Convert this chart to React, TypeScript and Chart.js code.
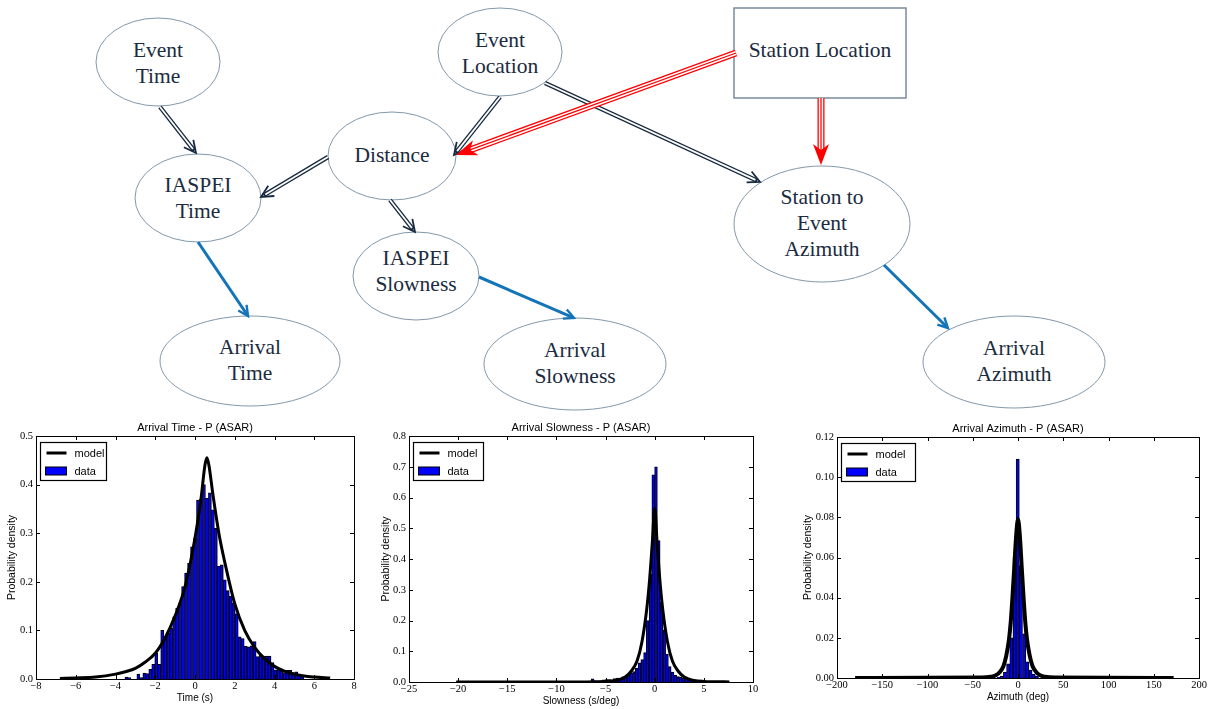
import React, { useEffect, useRef } from "react";
import { Chart, registerables } from "chart.js";
Chart.register(...registerables);

// ---------------- DATA ----------------
// Arrival Time histogram (bin centres, density)
const timeBinCenters = [-3.45, -3.3, -3.15, -3.0, -2.85, -2.7, -2.55, -2.4, -2.25, -2.1, -1.95, -1.8, -1.65, -1.5, -1.35, -1.2, -1.05, -0.9, -0.75, -0.6, -0.45, -0.3, -0.15, 0.0, 0.15, 0.3, 0.45, 0.6, 0.75, 0.9, 1.05, 1.2, 1.35, 1.5, 1.65, 1.8, 1.95, 2.1, 2.25, 2.4, 2.55, 2.7, 2.85, 3.0, 3.15, 3.3, 3.45, 3.6, 3.75, 3.9, 4.05, 4.2, 4.35, 4.5, 4.65, 4.8, 4.95, 5.1, 5.25, 5.4];
const timeDensity = [0.004, 0.003, 0, 0, 0.01, 0.003, 0.012, 0.011, 0.02, 0.03, 0.053, 0.03, 0.1, 0.088, 0.095, 0.105, 0.128, 0.146, 0.156, 0.19, 0.218, 0.238, 0.272, 0.29, 0.368, 0.37, 0.4, 0.372, 0.383, 0.348, 0.31, 0.232, 0.235, 0.204, 0.182, 0.17, 0.156, 0.134, 0.087, 0.083, 0.067, 0.066, 0.068, 0.077, 0.046, 0.05, 0.047, 0.047, 0.047, 0.034, 0.019, 0.019, 0.017, 0.013, 0.018, 0.018, 0.013, 0.015, 0.01, 0.007];
const timeModelX = [-6.8, -6, -5, -4, -3.5, -3, -2.5, -2, -1.5, -1, -0.5, 0, 0.3, 0.5, 0.6, 0.7, 0.9, 1.2, 1.5, 2, 2.5, 3, 3.5, 4, 4.5, 5, 5.5, 6, 6.8];
const timeModelY = [0.001, 0.002, 0.004, 0.01, 0.015, 0.022, 0.035, 0.053, 0.085, 0.13, 0.19, 0.29, 0.37, 0.44, 0.455, 0.44, 0.38, 0.3, 0.24, 0.155, 0.1, 0.065, 0.042, 0.026, 0.016, 0.01, 0.006, 0.004, 0.002];

// Arrival Slowness histogram
const slowBinCenters = [-6.31, -6.03, -5.75, -5.47, -5.19, -4.91, -4.63, -4.35, -4.07, -3.79, -3.51, -3.23, -2.95, -2.67, -2.39, -2.11, -1.83, -1.55, -1.27, -0.99, -0.71, -0.43, -0.15, 0.13, 0.41, 0.69, 0.97, 1.25, 1.53, 1.81, 2.09, 2.37, 2.65, 2.93, 3.21, 3.49, 3.77, 4.05, 4.33, 4.61, 4.89, 5.17, 5.45, 5.73, 6.01, 6.29, 6.57, 6.85, 7.13, 7.41];
const slowDensity = [0.01, 0.004, 0.003, 0.005, 0.007, 0.008, 0.008, 0.007, 0.011, 0.013, 0.012, 0.017, 0.019, 0.023, 0.028, 0.034, 0.045, 0.062, 0.073, 0.096, 0.2, 0.35, 0.674, 0.7, 0.46, 0.26, 0.17, 0.09, 0.05, 0.032, 0.022, 0.018, 0.015, 0.012, 0.016, 0.013, 0.008, 0.005, 0.004, 0.003, 0.003, 0.002, 0.002, 0.001, 0.001, 0.001, 0.001, 0.0005, 0.0005, 0.0005];
const slowModelX = [-20.2, -8, -6, -5, -4, -3.5, -3, -2.4, -1.8, -1.3, -0.8, -0.5, -0.25, 0, 0.25, 0.5, 0.8, 1.3, 1.8, 2.4, 3, 3.5, 4, 5, 6, 7.6];
const slowModelY = [0, 0.0003, 0.001, 0.002, 0.005, 0.009, 0.016, 0.035, 0.068, 0.13, 0.24, 0.34, 0.45, 0.565, 0.45, 0.34, 0.24, 0.13, 0.068, 0.035, 0.016, 0.009, 0.005, 0.002, 0.001, 0.0003];

// Arrival Azimuth histogram
const aziBinCenters = [-21.4, -17.9, -14.4, -10.9, -7.3, -3.8, -0.3, 3.2, 6.8, 10.3, 13.8, 17.3, 20.9];
const aziDensity = [0.0005, 0.001, 0.003, 0.007, 0.02, 0.06, 0.109, 0.056, 0.022, 0.008, 0.004, 0.002, 0.001];
const aziModelX = [-180, -40, -30, -25, -20, -16, -13, -10, -8, -6, -4, -2, 0, 2, 4, 6, 8, 10, 13, 16, 20, 25, 30, 40, 172];
const aziModelY = [0, 0.0002, 0.0006, 0.0012, 0.003, 0.006, 0.011, 0.019, 0.028, 0.041, 0.056, 0.071, 0.079, 0.071, 0.056, 0.041, 0.028, 0.019, 0.011, 0.006, 0.003, 0.0012, 0.0006, 0.0002, 0];

const chartTitles = ["Arrival Time - P (ASAR)", "Arrival Slowness - P (ASAR)", "Arrival Azimuth - P (ASAR)"];
const xAxisLabels = ["Time (s)", "Slowness (s/deg)", "Azimuth (deg)"];
const yAxisLabel = "Probability density";
const legendLabels = ["model", "data"];

// ---------------- LAYOUT ----------------
const chartLayouts = [
  { left: 0, top: 418, width: 370, height: 291, yAxisW: 36, padTop: 18, padRight: 16, xAxisH: 30, ylabelX: 12, legendW: 66, lineW: 3,
    xmin: -8, xmax: 8, xstep: 2, ymin: 0, ymax: 0.5, ystep: 0.1, ydec: 1 },
  { left: 370, top: 418, width: 405, height: 291, yAxisW: 39, padTop: 18, padRight: 22, xAxisH: 27, ylabelX: 16, legendW: 70, lineW: 3,
    xmin: -25, xmax: 10, xstep: 5, ymin: 0, ymax: 0.8, ystep: 0.1, ydec: 1 },
  { left: 790, top: 418, width: 423, height: 291, yAxisW: 47, padTop: 19, padRight: 14, xAxisH: 31, ylabelX: 18, legendW: 74, lineW: 4,
    xmin: -200, xmax: 200, xstep: 50, ymin: 0, ymax: 0.12, ystep: 0.02, ydec: 2 },
];

const SANS = "'Liberation Sans', Arial, sans-serif";
const SERIF = "'Liberation Serif', 'Times New Roman', serif";

const fmtX = (v: number) => (v < 0 ? "\u2212" + Math.abs(v) : String(v));

function makeFramePlugin(idx: number) {
  const lay = chartLayouts[idx];
  return {
    id: "frame" + idx,
    afterDraw(chart: any) {
      const { ctx, chartArea: a, scales } = chart;
      ctx.save();
      ctx.strokeStyle = "#000";
      ctx.lineWidth = 1;
      // inward ticks on all four sides
      ctx.beginPath();
      scales.x.ticks.forEach((t: any) => {
        const px = Math.round(scales.x.getPixelForValue(t.value)) + 0.5;
        ctx.moveTo(px, a.bottom); ctx.lineTo(px, a.bottom - 4);
        ctx.moveTo(px, a.top); ctx.lineTo(px, a.top + 4);
      });
      scales.y.ticks.forEach((t: any) => {
        const py = Math.round(scales.y.getPixelForValue(t.value)) + 0.5;
        ctx.moveTo(a.left, py); ctx.lineTo(a.left + 4, py);
        ctx.moveTo(a.right, py); ctx.lineTo(a.right - 4, py);
      });
      ctx.stroke();
      ctx.strokeRect(Math.round(a.left) + 0.5, Math.round(a.top) + 0.5, Math.round(a.right - a.left), Math.round(a.bottom - a.top));
      // texts
      ctx.fillStyle = "#000";
      ctx.textAlign = "center";
      ctx.textBaseline = "middle";
      ctx.font = "11px " + SANS;
      const cx = (a.left + a.right) / 2;
      ctx.fillText(chartTitles[idx], cx, a.top - 8);
      ctx.font = "10px " + SANS;
      ctx.fillText(xAxisLabels[idx], cx, a.bottom + 19.5);
      ctx.save();
      ctx.translate(lay.ylabelX, (a.top + a.bottom) / 2);
      ctx.rotate(-Math.PI / 2);
      ctx.font = "10.5px " + SANS;
      ctx.fillText(yAxisLabel, 0, 0);
      ctx.restore();
      // legend
      const bx = Math.round(a.left + 4) + 0.5;
      const by = Math.round(a.top + 6) + 0.5;
      ctx.fillStyle = "#fff";
      ctx.fillRect(bx, by, lay.legendW, 38);
      ctx.strokeStyle = "#000";
      ctx.lineWidth = 1.2;
      ctx.strokeRect(bx, by, lay.legendW, 38);
      ctx.beginPath();
      ctx.lineWidth = 3;
      ctx.moveTo(bx + 6, by + 10.5);
      ctx.lineTo(bx + 26, by + 10.5);
      ctx.stroke();
      ctx.fillStyle = "#0000ff";
      ctx.fillRect(bx + 5, by + 24.5, 21, 8);
      ctx.lineWidth = 1;
      ctx.strokeRect(bx + 5, by + 24.5, 21, 8);
      ctx.fillStyle = "#000";
      ctx.textAlign = "left";
      ctx.font = "11px " + SANS;
      ctx.fillText(legendLabels[0], bx + 34, by + 11);
      ctx.fillText(legendLabels[1], bx + 34, by + 29);
      ctx.restore();
    },
  };
}

function HistChart({ idx, centers, density, modelX, modelY }: any) {
  const ref = useRef<HTMLCanvasElement>(null);
  const lay = chartLayouts[idx];
  useEffect(() => {
    const chart = new Chart(ref.current as HTMLCanvasElement, {
      type: "bar",
      data: {
        datasets: [
          {
            type: "line",
            label: legendLabels[0],
            data: modelX.map((x: number, i: number) => ({ x, y: modelY[i] })),
            borderColor: "#000",
            borderWidth: lay.lineW,
            pointRadius: 0,
            cubicInterpolationMode: "monotone",
            order: 0,
          } as any,
          {
            type: "bar",
            label: legendLabels[1],
            data: centers.map((x: number, i: number) => ({ x, y: density[i] })),
            backgroundColor: "#0000ff",
            borderColor: "#000",
            borderWidth: 1,
            barPercentage: 1,
            categoryPercentage: 1,
            order: 1,
          } as any,
        ],
      },
      options: {
        responsive: false,
        animation: false,
        events: [],
        layout: { padding: { left: 0, top: lay.padTop, right: lay.padRight, bottom: 0 } },
        plugins: { legend: { display: false }, tooltip: { enabled: false }, title: { display: false } },
        scales: {
          x: {
            type: "linear",
            min: lay.xmin,
            max: lay.xmax,
            offset: false,
            grid: { display: false, drawTicks: false },
            border: { display: false },
            ticks: {
              stepSize: lay.xstep,
              autoSkip: false,
              maxRotation: 0,
              padding: 1,
              color: "#000",
              font: { family: SERIF, size: 10.5 },
              callback: (v: any) => fmtX(Number(v)),
            },
            afterFit: (s: any) => { s.height = lay.xAxisH; },
          },
          y: {
            type: "linear",
            min: lay.ymin,
            max: lay.ymax,
            grid: { display: false, drawTicks: false },
            border: { display: false },
            ticks: {
              stepSize: lay.ystep,
              autoSkip: false,
              padding: 3,
              color: "#000",
              font: { family: SERIF, size: 10.5 },
              callback: (v: any) => Number(v).toFixed(lay.ydec),
            },
            afterFit: (s: any) => { s.width = lay.yAxisW; },
          },
        },
      } as any,
      plugins: [makeFramePlugin(idx)],
    });
    return () => chart.destroy();
  }, []);
  return (
    <div style={{ position: "absolute", left: lay.left, top: lay.top, width: lay.width, height: lay.height }}>
      <canvas ref={ref} width={lay.width} height={lay.height} style={{ width: lay.width, height: lay.height, display: "block" }} />
    </div>
  );
}

// ---------------- DIAGRAM ----------------
const diagramNodes = [
  { lines: ["Event", "Time"], cx: 158, cy: 62, rx: 62, ry: 44, ty: 50 },
  { lines: ["Event", "Location"], cx: 500, cy: 52, rx: 62, ry: 44, ty: 40 },
  { lines: ["Distance"], cx: 392, cy: 156, rx: 64, ry: 44, ty: 155 },
  { lines: ["IASPEI", "Time"], cx: 198, cy: 198, rx: 63, ry: 44, ty: 185 },
  { lines: ["Station to", "Event", "Azimuth"], cx: 822, cy: 224, rx: 88, ry: 58, ty: 197 },
  { lines: ["IASPEI", "Slowness"], cx: 416, cy: 276, rx: 63, ry: 44, ty: 258 },
  { lines: ["Arrival", "Time"], cx: 250, cy: 361, rx: 90, ry: 45, ty: 347 },
  { lines: ["Arrival", "Slowness"], cx: 575, cy: 364, rx: 91, ry: 46, ty: 350 },
  { lines: ["Arrival", "Azimuth"], cx: 1014, cy: 362, rx: 91, ry: 46, ty: 348 },
];
const stationBox = { x: 734, y: 8, w: 172, h: 90, label: "Station Location", ty: 50 };
const diagramEdges = [
  { x1: 160, y1: 107, x2: 196, y2: 153, kind: "double" },
  { x1: 500, y1: 97, x2: 454, y2: 155, kind: "double" },
  { x1: 545, y1: 83, x2: 760, y2: 182, kind: "double" },
  { x1: 328, y1: 157, x2: 261, y2: 197, kind: "double" },
  { x1: 390, y1: 200, x2: 415, y2: 232, kind: "double" },
  { x1: 736, y1: 53, x2: 456, y2: 155, kind: "triple" },
  { x1: 821, y1: 98, x2: 821, y2: 165, kind: "triple" },
  { x1: 198, y1: 242, x2: 248, y2: 316, kind: "blue" },
  { x1: 479, y1: 277, x2: 574, y2: 318, kind: "blue" },
  { x1: 884, y1: 265, x2: 948, y2: 328, kind: "blue" },
];
const NAVY = "#172a3f";
const NODE_STROKE = "#8298ab";
const BLUE = "#1474b8";

function Edge({ e }: any) {
  const dx = e.x2 - e.x1, dy = e.y2 - e.y1;
  const L = Math.hypot(dx, dy);
  const ux = dx / L, uy = dy / L, px = -uy, py = ux;
  const pt = (back: number, side: number) => `${e.x2 - ux * back + px * side},${e.y2 - uy * back + py * side}`;
  if (e.kind === "double") {
    const sx = e.x2 - ux * 3, sy = e.y2 - uy * 3;
    return (
      <g>
        <line x1={e.x1} y1={e.y1} x2={sx} y2={sy} stroke={NAVY} strokeWidth={4.4} />
        <line x1={e.x1} y1={e.y1} x2={e.x2 - ux * 5} y2={e.y2 - uy * 5} stroke="#fff" strokeWidth={1.8} />
        <polyline points={`${pt(12, 6)} ${e.x2},${e.y2} ${pt(12, -6)}`} fill="none" stroke={NAVY} strokeWidth={1.8} />
      </g>
    );
  }
  if (e.kind === "triple") {
    const sx = e.x2 - ux * 14, sy = e.y2 - uy * 14;
    return (
      <g>
        <line x1={e.x1} y1={e.y1} x2={sx} y2={sy} stroke="#ff0000" strokeWidth={7} />
        <line x1={e.x1} y1={e.y1} x2={sx} y2={sy} stroke="#fff" strokeWidth={4.4} />
        <line x1={e.x1} y1={e.y1} x2={sx} y2={sy} stroke="#ff0000" strokeWidth={1.3} />
        <polygon points={`${e.x2},${e.y2} ${pt(21, 8)} ${pt(15, 0)} ${pt(21, -8)}`} fill="#ff0000" />
      </g>
    );
  }
  return (
    <g>
      <line x1={e.x1} y1={e.y1} x2={e.x2 - ux * 1.5} y2={e.y2 - uy * 1.5} stroke={BLUE} strokeWidth={3} />
      <polyline points={`${pt(10, 5)} ${e.x2},${e.y2} ${pt(10, -5)}`} fill="none" stroke={BLUE} strokeWidth={2.4} />
    </g>
  );
}

function Diagram() {
  const textStyle: any = { fontFamily: SERIF, fontSize: 21.5, fill: "#1b2b40" };
  return (
    <svg width={1213} height={412} style={{ position: "absolute", left: 0, top: 0 }}>
      {diagramNodes.map((n, i) => (
        <ellipse key={"n" + i} cx={n.cx} cy={n.cy} rx={n.rx} ry={n.ry} fill="#fff" stroke={NODE_STROKE} strokeWidth={1} />
      ))}
      <rect x={stationBox.x} y={stationBox.y} width={stationBox.w} height={stationBox.h} fill="#fff" stroke="#6f8295" strokeWidth={1.4} />
      {diagramEdges.map((e, i) => <Edge key={"e" + i} e={e} />)}
      {diagramNodes.map((n, i) => (
        <g key={"t" + i}>
          {n.lines.map((t, j) => (
            <text key={j} x={n.cx} y={n.ty + j * 26} textAnchor="middle" dominantBaseline="central" style={textStyle}>{t}</text>
          ))}
        </g>
      ))}
      <text x={stationBox.x + stationBox.w / 2} y={stationBox.ty} textAnchor="middle" dominantBaseline="central" style={textStyle}>{stationBox.label}</text>
    </svg>
  );
}

export default function App() {
  return (
    <div style={{ position: "absolute", left: 0, top: 0, width: 1213, height: 709, background: "#fff", overflow: "hidden" }}>
      <Diagram />
      <HistChart idx={0} centers={timeBinCenters} density={timeDensity} modelX={timeModelX} modelY={timeModelY} />
      <HistChart idx={1} centers={slowBinCenters} density={slowDensity} modelX={slowModelX} modelY={slowModelY} />
      <HistChart idx={2} centers={aziBinCenters} density={aziDensity} modelX={aziModelX} modelY={aziModelY} />
    </div>
  );
}
